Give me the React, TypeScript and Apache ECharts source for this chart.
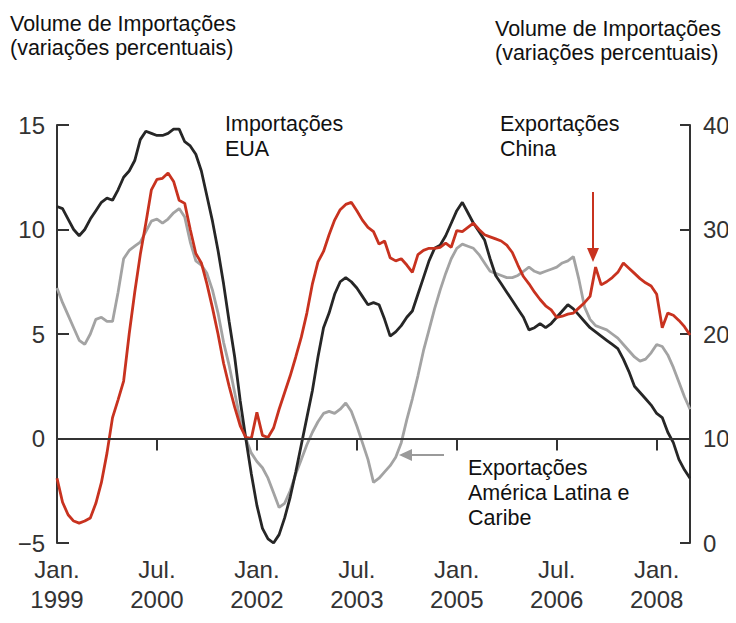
import React, { useEffect, useRef } from "react";
import * as echarts from "echarts";

// Monthly observations, Jan. 1999 .. Jul. 2008
const START_YEAR = 1999;
const MONTH_COUNT = 115;
const months: string[] = Array.from({ length: MONTH_COUNT }, (_, i) => {
  const y = START_YEAR + Math.floor(i / 12);
  const m = (i % 12) + 1;
  return `${y}-${m < 10 ? "0" + m : m}`;
});

const tickLabels = ["Jan.\n1999", "Jul.\n2000", "Jan.\n2002", "Jul.\n2003", "Jan.\n2005", "Jul.\n2006", "Jan.\n2008"];
const TICK_STEP = 18;

// Importações EUA (left axis)
const usImports = [
  11.1, 11.0, 10.5, 10.0, 9.7, 10.0, 10.5, 10.9, 11.3, 11.5,
  11.4, 11.9, 12.5, 12.8, 13.3, 14.3, 14.7, 14.6, 14.5, 14.5,
  14.6, 14.8, 14.8, 14.2, 14.0, 13.6, 12.8, 11.6, 10.4, 9.0,
  7.4, 5.6, 3.9, 1.8, 0.0, -1.7, -3.2, -4.3, -4.8, -5.0,
  -4.6, -3.8, -2.8, -1.6, -0.3, 1.0, 2.3, 3.9, 5.3, 6.0,
  6.9, 7.5, 7.7, 7.5, 7.2, 6.8, 6.4, 6.5, 6.4, 5.7,
  4.9, 5.1, 5.4, 5.8, 6.1, 6.9, 7.7, 8.5, 9.1, 9.25,
  9.7, 10.3, 10.9, 11.3, 10.8, 10.3, 9.9, 9.5, 8.6, 7.8,
  7.4, 7.0, 6.6, 6.2, 5.8, 5.2, 5.3, 5.5, 5.3, 5.5,
  5.8, 6.1, 6.4, 6.2, 5.9, 5.6, 5.3, 5.1, 4.9, 4.7,
  4.5, 4.3, 3.8, 3.2, 2.5, 2.2, 1.9, 1.6, 1.2, 1.0,
  0.3, -0.2, -1.0, -1.5, -1.9,
];

// Exportações América Latina e Caribe (left axis)
const latamExports = [
  7.2, 6.5, 5.9, 5.3, 4.7, 4.5, 5.0, 5.7, 5.8, 5.6,
  5.6, 7.0, 8.6, 9.0, 9.2, 9.4, 9.9, 10.4, 10.5, 10.3,
  10.5, 10.8, 11.0, 10.6, 9.4, 8.5, 8.3, 7.9, 7.1, 6.0,
  4.6, 3.5, 2.2, 0.9, 0.0, -0.7, -1.1, -1.4, -1.9, -2.6,
  -3.3, -3.1, -2.5, -1.7, -1.0, -0.3, 0.3, 0.8, 1.2, 1.3,
  1.2, 1.4, 1.7, 1.3, 0.6, -0.2, -1.0, -2.1, -1.9, -1.6,
  -1.3, -0.9, -0.2, 0.9, 1.9, 3.0, 4.2, 5.2, 6.2, 7.1,
  7.9, 8.6, 9.1, 9.3, 9.2, 9.1, 8.8, 8.4, 8.0, 7.9,
  7.8, 7.7, 7.7, 7.8, 8.0, 8.2, 8.0, 7.9, 8.0, 8.1,
  8.2, 8.4, 8.5, 8.7, 7.6, 6.3, 5.7, 5.4, 5.3, 5.2,
  5.0, 4.8, 4.5, 4.2, 3.9, 3.7, 3.8, 4.1, 4.5, 4.4,
  4.0, 3.4, 2.7, 2.0, 1.4,
];

// Exportações China (right axis)
const chinaExports = [
  6.2, 3.9, 2.7, 2.1, 1.9, 2.1, 2.4, 3.8, 5.8, 8.6,
  12.0, 13.7, 15.5, 20.0, 24.0, 27.6, 30.6, 33.8, 34.8, 34.9,
  35.4, 34.6, 32.8, 32.5, 30.0, 27.7, 26.8, 24.8, 22.5, 20.0,
  17.2, 15.0, 13.0, 11.2, 10.1, 10.0, 12.5, 10.3, 10.1, 11.0,
  12.8, 14.4, 16.0, 17.8, 19.7, 22.0, 24.8, 26.9, 27.9, 29.5,
  30.9, 31.9, 32.4, 32.6, 31.8, 30.9, 30.2, 29.8, 28.6, 28.9,
  27.3, 27.0, 27.2, 26.6, 25.9, 27.6, 28.0, 28.2, 28.2, 28.3,
  28.7, 28.3, 29.9, 29.8, 30.2, 30.6, 30.0, 29.5, 29.3, 29.1,
  28.9, 28.5, 27.8, 26.6, 25.5, 24.8, 24.0, 23.3, 22.7, 22.3,
  21.6, 21.7, 21.9, 22.0, 22.5, 23.0, 23.6, 26.4, 24.7, 25.0,
  25.4, 25.9, 26.8, 26.3, 25.8, 25.3, 24.9, 24.6, 23.8, 20.6,
  22.0, 21.8, 21.3, 20.7, 19.9,
];

const FONT = "'Liberation Sans', Arial, Helvetica, sans-serif";
const AXIS_COLOR = "#333333";

export default function App() {
  const ref = useRef<HTMLDivElement>(null);

  useEffect(() => {
    if (!ref.current) return;
    const chart = echarts.init(ref.current, undefined, { renderer: "svg" });
    const tickLabelStyle = { color: "#333333", fontSize: 24, fontFamily: FONT };
    const textStyle = { fill: "#111111", fontSize: 21.5, fontFamily: FONT, lineHeight: 24 };
    const minusFmt = (v: number) => String(v).replace("-", "\u2212");

    chart.setOption({
      animation: false,
      backgroundColor: "#ffffff",
      grid: { left: 57, right: 46, top: 125, bottom: 80, containLabel: false },
      xAxis: {
        type: "category",
        data: months,
        boundaryGap: false,
        axisLine: { lineStyle: { color: AXIS_COLOR, width: 2 } },
        axisTick: {
          inside: false,
          length: 12,
          interval: (i: number) => i % TICK_STEP === 0,
          lineStyle: { color: AXIS_COLOR, width: 2 },
        },
        axisLabel: {
          ...tickLabelStyle,
          lineHeight: 30,
          margin: 11,
          interval: (i: number) => i % TICK_STEP === 0,
          formatter: (_v: string, i: number) => tickLabels[i / TICK_STEP] ?? "",
        },
        splitLine: { show: false },
      },
      yAxis: [
        {
          type: "value",
          min: -5,
          max: 15,
          interval: 5,
          position: "left",
          axisLine: { show: true, lineStyle: { color: AXIS_COLOR, width: 2 } },
          axisTick: { show: true, inside: true, length: 12, lineStyle: { color: AXIS_COLOR, width: 2 } },
          axisLabel: { ...tickLabelStyle, margin: 12, formatter: minusFmt },
          splitLine: { show: false },
        },
        {
          type: "value",
          min: 0,
          max: 40,
          interval: 10,
          position: "right",
          axisLine: { show: true, lineStyle: { color: AXIS_COLOR, width: 2 } },
          axisTick: { show: true, inside: true, length: 10, lineStyle: { color: AXIS_COLOR, width: 2 } },
          axisLabel: { ...tickLabelStyle, margin: 13 },
          splitLine: { show: false },
        },
      ],
      series: [
        {
          name: "Exportações América Latina e Caribe",
          type: "line",
          yAxisIndex: 0,
          data: latamExports,
          showSymbol: false,
          lineStyle: { color: "#a3a3a3", width: 2.8 },
          z: 2,
          markLine: {
            silent: true,
            symbol: "none",
            label: { show: false },
            lineStyle: { color: AXIS_COLOR, width: 2, type: "solid" },
            data: [{ yAxis: 0 }],
          },
        },
        {
          name: "Importações EUA",
          type: "line",
          yAxisIndex: 0,
          data: usImports,
          showSymbol: false,
          lineStyle: { color: "#262626", width: 2.8 },
          z: 3,
        },
        {
          name: "Exportações China",
          type: "line",
          yAxisIndex: 1,
          data: chinaExports,
          showSymbol: false,
          lineStyle: { color: "#c8321f", width: 2.8 },
          z: 4,
        },
      ],
      graphic: [
        { type: "text", left: 10, top: 12, style: { ...textStyle, text: "Volume de Importações\n(variações percentuais)" } },
        { type: "text", left: 495, top: 17, style: { ...textStyle, text: "Volume de Importações\n(variações percentuais)" } },
        { type: "text", left: 225, top: 111, style: { ...textStyle, lineHeight: 25, text: "Importações\nEUA" } },
        { type: "text", left: 500, top: 111, style: { ...textStyle, lineHeight: 25, text: "Exportações\nChina" } },
        { type: "text", left: 468, top: 455, style: { ...textStyle, lineHeight: 25, text: "Exportações\nAmérica Latina e\nCaribe" } },
        // red arrow
        { type: "line", shape: { x1: 593, y1: 192, x2: 593, y2: 252 }, style: { stroke: "#c8321f", lineWidth: 2 }, z: 10 },
        { type: "polygon", shape: { points: [[587, 248], [599, 248], [593, 262]] }, style: { fill: "#c8321f" }, z: 10 },
        // gray arrow
        { type: "line", shape: { x1: 444, y1: 455, x2: 410, y2: 455 }, style: { stroke: "#9a9a9a", lineWidth: 2 }, z: 10 },
        { type: "polygon", shape: { points: [[412, 449], [412, 461], [399, 455]] }, style: { fill: "#9a9a9a" }, z: 10 },
      ],
    });

    return () => chart.dispose();
  }, []);

  return <div ref={ref} style={{ width: 736, height: 623, margin: -8 }} />;
}
